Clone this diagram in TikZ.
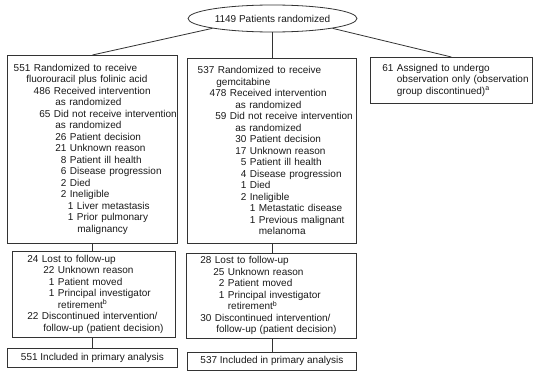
\documentclass[tikz,border=0pt]{standalone}
\usepackage{fontspec}
\setmainfont{Liberation Sans}
\usetikzlibrary{shapes.geometric}

\newcommand\nrow[3]{\mbox{\hspace{#1pt}\llap{#2}\hspace{3.5pt}#3}}
\newcommand\crow[2]{\mbox{\hspace{#1pt}#2}}

\begin{document}
\begin{tikzpicture}[x=1pt,y=-1pt,
  every node/.style={font=\fontsize{10pt}{11.5pt}\selectfont,text=black!90},
  flowbox/.style={draw=black!80,line width=0.8pt,anchor=north west,inner xsep=0pt,inner ysep=2pt,align=left},
  countbox/.style={draw=black!80,line width=0.8pt,anchor=north west,align=center,inner sep=0pt},
  link/.style={draw=black!80,line width=0.8pt}]
\useasboundingbox (0,0) rectangle (533,375);

\node[ellipse,draw=black!80,line width=0.8pt,minimum width=169pt,minimum height=27pt,inner sep=0pt] (rand) at (272.5,18.5) {1149 Patients randomized};

% Fluorouracil arm
\node[flowbox,text width=170pt,minimum height=188pt] (a1) at (7,55) {%
\nrow{23}{551}{Randomized to receive}\\
\crow{19}{fluorouracil plus folinic acid}\\
\nrow{43}{486}{Received intervention}\\
\crow{48}{as randomized}\\
\nrow{43}{65}{Did not receive intervention}\\
\crow{48}{as randomized}\\
\nrow{59}{26}{Patient decision}\\
\nrow{59}{21}{Unknown reason}\\
\nrow{59}{8}{Patient ill health}\\
\nrow{59}{6}{Disease progression}\\
\nrow{59}{2}{Died}\\
\nrow{59}{2}{Ineligible}\\
\nrow{66}{1}{Liver metastasis}\\
\nrow{66}{1}{Prior pulmonary}\\
\crow{70}{malignancy}};
\node[flowbox,text width=163pt,minimum height=86pt] (a2) at (12,251) {%
\nrow{26}{24}{Lost to follow-up}\\
\nrow{42}{22}{Unknown reason}\\
\nrow{42}{1}{Patient moved}\\
\nrow{42}{1}{Principal investigator}\\
\crow{45.5}{retirement\textsuperscript{b}}\\
\nrow{26}{22}{Discontinued intervention/}\\
\crow{31}{follow-up (patient decision)}};
\node[countbox,minimum width=170pt,minimum height=19pt] (a3) at (7,348) {551 Included in primary analysis};

% Gemcitabine arm
\node[flowbox,text width=169pt,minimum height=185pt] (g1) at (187,58) {%
\nrow{27}{537}{Randomized to receive}\\
\crow{29}{gemcitabine}\\
\nrow{39}{478}{Received intervention}\\
\crow{48}{as randomized}\\
\nrow{39}{59}{Did not receive intervention}\\
\crow{48}{as randomized}\\
\nrow{59}{30}{Patient decision}\\
\nrow{59}{17}{Unknown reason}\\
\nrow{59}{5}{Patient ill health}\\
\nrow{59}{4}{Disease progression}\\
\nrow{59}{1}{Died}\\
\nrow{59}{2}{Ineligible}\\
\nrow{68}{1}{Metastatic disease}\\
\nrow{68}{1}{Previous malignant}\\
\crow{71.5}{melanoma}};
\node[flowbox,text width=170pt,minimum height=85pt] (g2) at (186,253) {%
\nrow{25}{28}{Lost to follow-up}\\
\nrow{38}{25}{Unknown reason}\\
\nrow{38}{2}{Patient moved}\\
\nrow{38}{1}{Principal investigator}\\
\crow{41.5}{retirement\textsuperscript{b}}\\
\nrow{25}{30}{Discontinued intervention/}\\
\crow{30}{follow-up (patient decision)}};
\node[countbox,minimum width=169pt,minimum height=18pt] (g3) at (187,352) {537 Included in primary analysis};

% Observation group
\node[flowbox,text width=162pt,minimum height=46pt] (obs) at (370,57) {%
\nrow{23}{61}{Assigned to undergo}\\
\crow{26.5}{observation only (observation}\\
\crow{26.5}{group discontinued)\textsuperscript{a}}};

\draw[link] (rand.south west) -- (a1.north);
\draw[link] (rand.south) -- (rand.south |- g1.north);
\draw[link] (rand.south east) -- (obs.north);
\draw[link] (a1.south) -- (a1.south |- a2.north);
\draw[link] (a1.south |- a2.south) -- (a1.south |- a3.north);
\draw[link] (g1.south) -- (g1.south |- g2.north);
\draw[link] (g1.south |- g2.south) -- (g1.south |- g3.north);
\end{tikzpicture}
\end{document}
